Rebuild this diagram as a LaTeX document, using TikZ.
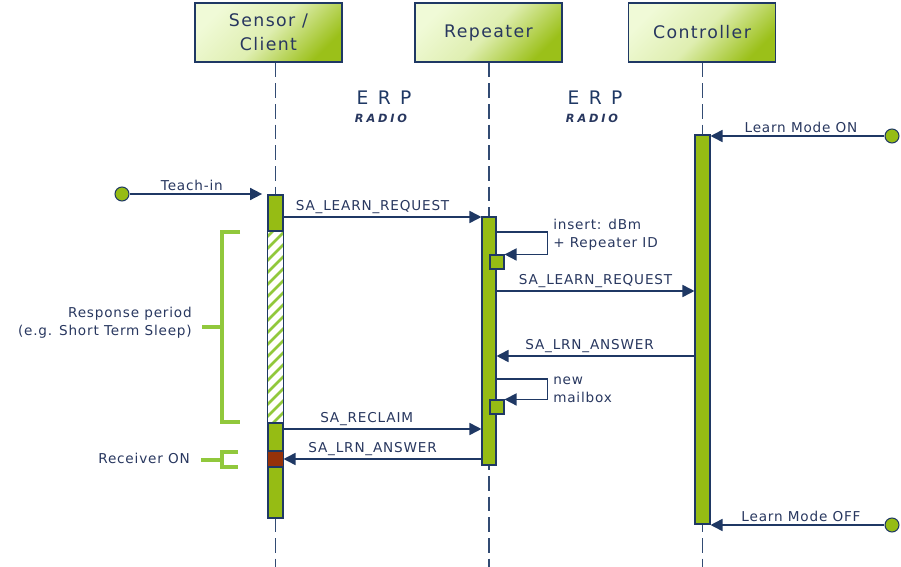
\documentclass[tikz,border=0pt]{standalone}
\usepackage{fontspec}
\setmainfont{DejaVu Sans}
\newfontfamily\lblfont{DejaVu Sans}[LetterSpace=6]
\newfontfamily\hdrfont{DejaVu Sans}[LetterSpace=8]
\newfontfamily\erpfont{DejaVu Sans}[LetterSpace=50]
\newfontfamily\radiofont{DejaVu Sans}[LetterSpace=25]
\usetikzlibrary{arrows.meta,calc}
\definecolor{navy}{RGB}{31,56,100}
\definecolor{lifenavy}{RGB}{50,75,115}
\definecolor{txt}{RGB}{40,55,95}
\definecolor{bargreen}{RGB}{150,188,20}
\definecolor{brkgreen}{RGB}{145,200,60}
\definecolor{rxred}{RGB}{150,50,10}
\definecolor{hlight}{RGB}{240,250,215}
\definecolor{hdark}{RGB}{155,192,25}
\tikzset{
  hdr/.style={draw=navy, line width=1.1pt, minimum width=110pt, minimum height=44.25pt,
    inner sep=0pt, align=center, text=txt,
    top color=hlight, bottom color=hdark, middle color=hlight!80!hdark, shading angle=45,
    font=\hdrfont\fontsize{13pt}{18pt}\selectfont},
  life/.style={draw=lifenavy, line width=1.4pt, dash pattern=on 11pt off 4.5pt},
  bar/.style={draw=navy, line width=0.8pt, fill=bargreen, inner sep=0pt, minimum width=11.25pt},
  sq/.style={draw=navy, line width=0.8pt, fill=bargreen, inner sep=0pt, minimum size=10.5pt},
  dot/.style={circle, draw=navy, line width=0.8pt, fill=bargreen, inner sep=0pt, minimum size=10.5pt},
  msg/.style={draw=navy, line width=1.25pt, -{Triangle[length=9pt,width=9pt]}},
  lbl/.style={text=txt, font=\lblfont\fontsize{10.2pt}{13.5pt}\selectfont, inner sep=1.5pt},
  brk/.style={draw=brkgreen, line width=2.3pt},
}
\begin{document}
\begin{tikzpicture}[x=0.75pt,y=-0.75pt]
\useasboundingbox (0,0) rectangle (901,567);
% headers
\node[hdr] (sc) at (268.5,32.5) {Sensor /\\Client};
\node[hdr] (rp) at (488.5,32.5) {Repeater};
\node[hdr] (ct) at (702,32.5) {Controller};
% bottoms of lifelines
\coordinate (sEnd) at (275.5,567);
\coordinate (rEnd) at (489,567);
\coordinate (cEnd) at (702.5,567);
% lifelines
\draw[life] (sc.south -| sEnd) -- (sEnd);
\draw[life] (rp.south -| rEnd) -- (rEnd);
\draw[life] (ct.south -| cEnd) -- (cEnd);
% ERP labels
\node[text=navy, font=\erpfont\fontsize{14pt}{16pt}\selectfont] (erp1) at (384,98) {ERP};
\node[text=txt, font=\radiofont\fontsize{8.5pt}{10pt}\selectfont\bfseries\itshape] (rad1) at (381,118) {RADIO};
\node[text=navy, font=\erpfont\fontsize{14pt}{16pt}\selectfont] (erp2) at (595,98) {ERP};
\node[text=txt, font=\radiofont\fontsize{8.5pt}{10pt}\selectfont\bfseries\itshape] (rad2) at (592,118) {RADIO};
% activation bars
\node[bar, minimum height=242.25pt] (sbar) at (275.5,356.5) {};
\node[bar, minimum width=10.5pt, minimum height=186pt] (rbar) at (489,341) {};
\node[bar, minimum height=291.75pt] (cbar) at (702.5,329.5) {};
% sensor bar segments
\fill[white] (268,231) rectangle (283,423);
\begin{scope}
  \clip (268,231) rectangle (283,423);
  \foreach \y in {236,248,...,440} {
    \draw[brkgreen, line width=2pt] (264,\y+4) -- (287,\y-19);
  }
\end{scope}
\fill[rxred] (268,451) rectangle (283,467);
\draw[navy, line width=0.8pt] (268,231) -- (283,231) (268,423) -- (283,423)
  (268,451) -- (283,451) (268,467) -- (283,467);
\draw[navy, line width=0.8pt] (sbar.north west) rectangle (sbar.south east);
% small squares on repeater
\node[sq] (sq1) at (497,262) {};
\node[sq] (sq2) at (497,407) {};
% external triggers
\node[dot] (ti) at (122,194) {};
\node[dot] (on) at (892,136) {};
\node[dot] (off) at (892,525) {};
\draw[msg] (ti) -- ([xshift=-4pt]sbar.west |- ti) node[lbl, pos=.47, above] {Teach-in};
\draw[msg] (on) -- (cbar.east |- on) node[lbl, pos=.48, above] {Learn Mode ON};
\draw[msg] (off) -- (cbar.east |- off) node[lbl, pos=.48, above] {Learn Mode OFF};
% messages
\draw[msg] (sbar.east |- 0,217) -- (rbar.west |- 0,217) node[lbl, pos=.45, above] {SA\_LEARN\_REQUEST};
\draw[msg] (rbar.east |- 0,232) -- ++(51,0) |- (sq1.north east);
\node[lbl, anchor=west, align=left] (ins) at (551,235) {insert: dBm\\+ Repeater ID};
\draw[msg] (rbar.east |- 0,291) -- (cbar.west |- 0,291) node[lbl, pos=.5, above] {SA\_LEARN\_REQUEST};
\draw[msg] (cbar.west |- 0,356) -- (rbar.east |- 0,356) node[lbl, pos=.53, above] {SA\_LRN\_ANSWER};
\draw[msg] (rbar.east |- 0,379) -- ++(51,0) |- (sq2.north east);
\node[lbl, anchor=west, align=left] (nm) at (551,390) {new\\mailbox};
\draw[msg] (sbar.east |- 0,429) -- (rbar.west |- 0,429) node[lbl, pos=.42, above] {SA\_RECLAIM};
\draw[msg] (rbar.west |- 0,459) -- (sbar.east |- 0,459) node[lbl, pos=.55, above] {SA\_LRN\_ANSWER};
% brackets
\draw[brk] (240,232) -- (222,232) -- (222,422) -- (240,422);
\draw[brk] (202,327) -- (222,327);
\node[lbl, anchor=east, align=right] (resp) at (194,323) {Response period\\(e.g. Short Term Sleep)};
\draw[brk] (238,452) -- (222,452) -- (222,467) -- (238,467);
\draw[brk] (201,460) -- (222,460);
\node[lbl, anchor=east] (rxon) at (192,458) {Receiver ON};
\end{tikzpicture}
\end{document}
